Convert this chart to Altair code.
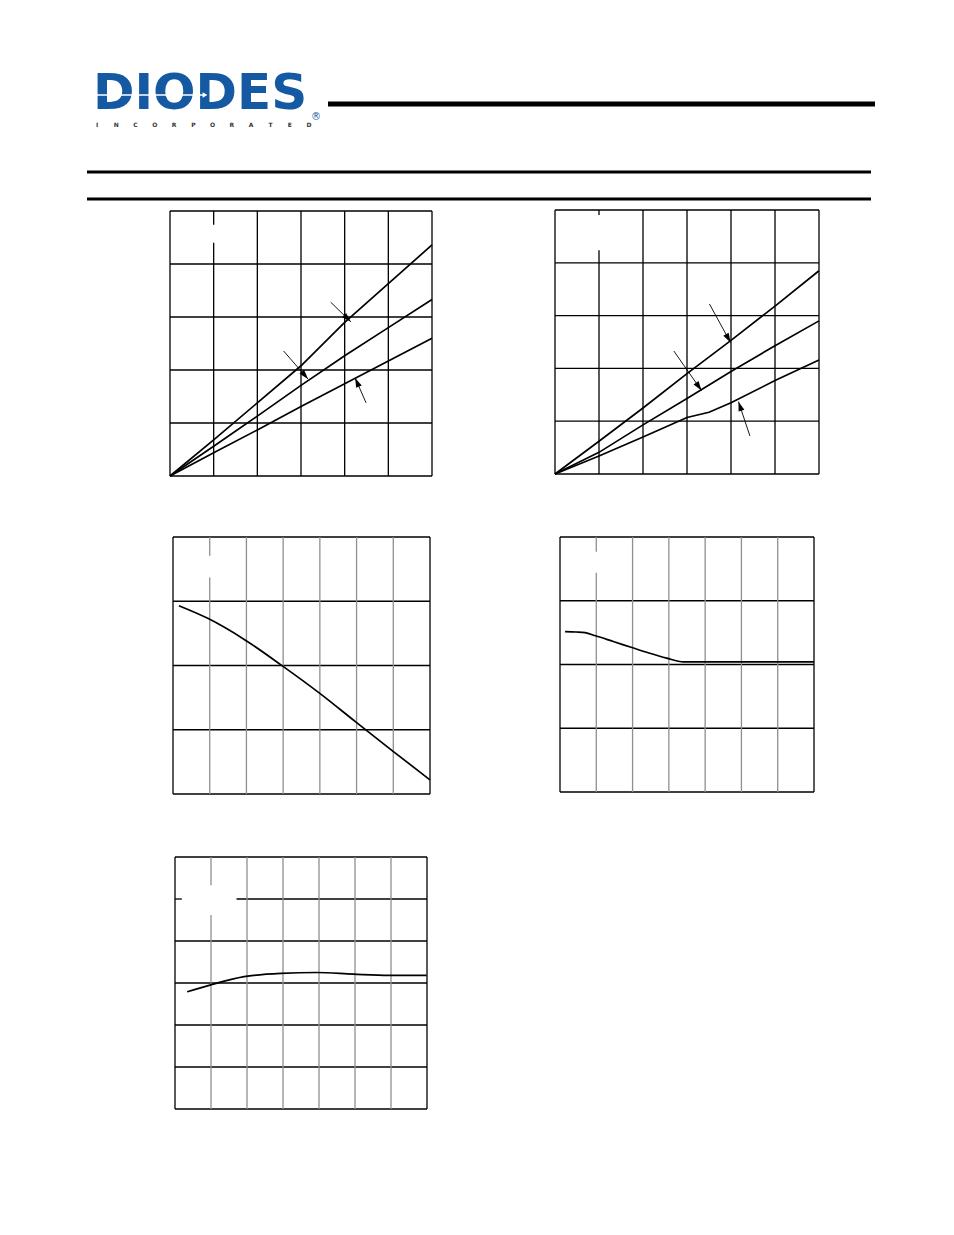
import math
import altair as alt
import pandas as pd

OFF = 8           # page margin
W, H = 938, 1219  # drawing area

# ---------------- data ----------------
# Panel A (top left): three straight-ish lines from origin
A_x = [0, 1, 2, 3, 4, 5, 6]
A_top = [0, 0.68, 1.38, 2.08, 2.90, 3.63, 4.36]
A_mid = [0, 0.56, 1.13, 1.71, 2.27, 2.80, 3.33]
A_bot = [0, 0.44, 0.87, 1.31, 1.74, 2.17, 2.60]
A_tail_x = [3.68, 2.60, 4.49]
A_tail_y = [3.28, 2.36, 1.38]
A_head_x = [4.14, 3.16, 4.24]
A_head_y = [2.91, 1.83, 1.85]

# Panel B (top right)
B_x_top = [0, 1, 2, 3, 4, 5, 6]
B_top = [0, 0.62, 1.25, 1.90, 2.53, 3.18, 3.85]
B_x_mid = [0, 1, 2, 3, 4, 5, 6]
B_mid = [0, 0.41, 0.93, 1.43, 1.94, 2.43, 2.90]
B_x_bot = [0, 1, 2, 3, 3.5, 4, 5, 6]
B_bot = [0, 0.34, 0.70, 1.07, 1.17, 1.35, 1.77, 2.16]
B_tail_x = [3.51, 2.70, 4.43]
B_tail_y = [3.22, 2.33, 0.72]
B_head_x = [3.99, 3.33, 4.17]
B_head_y = [2.49, 1.58, 1.37]

# Panel C (middle left): falling curve
C_x = [0.16, 0.96, 1.93, 2.94, 3.99, 4.96, 5.96, 7.0]
C_y = [2.93, 2.73, 2.41, 2.01, 1.57, 1.13, 0.68, 0.22]

# Panel D (middle right): slow fall then flat
D_x = [0.14, 0.45, 0.69, 0.98, 1.47, 1.96, 2.45, 2.94, 3.40, 5.0, 7.0]
D_y = [2.515, 2.51, 2.50, 2.45, 2.36, 2.27, 2.18, 2.10, 2.04, 2.04, 2.04]

# Panel E (bottom left): slight rise then flat
E_x = [0.34, 0.97, 1.92, 2.94, 3.94, 4.95, 5.94, 6.99]
E_y = [2.79, 2.95, 3.15, 3.23, 3.25, 3.21, 3.18, 3.18]

LOGO = "DIODES"
LOGO_SUB = list("INCORPORATED")
REG = "®"

# panel geometry (page pixels) and domains
PANELS = {
    "A": dict(px=(170, 432), py=(211, 476), xd=(0, 6), yd=(0, 5)),
    "B": dict(px=(555, 819), py=(210, 474), xd=(0, 6), yd=(0, 5)),
    "C": dict(px=(173, 430), py=(537, 794), xd=(0, 7), yd=(0, 4)),
    "D": dict(px=(560, 814), py=(537, 792), xd=(0, 7), yd=(0, 4)),
    "E": dict(px=(175, 427), py=(857, 1109), xd=(0, 7), yd=(0, 6)),
}


def scales(p):
    g = PANELS[p]
    xs = alt.Scale(domain=list(g["xd"]), range=[g["px"][0] - OFF, g["px"][1] - OFF],
                   nice=False, zero=False)
    ys = alt.Scale(domain=list(g["yd"]), range=[g["py"][1] - OFF, g["py"][0] - OFF],
                   nice=False, zero=False)
    return xs, ys


def segs_v(k, y0, y1, gaps):
    out, cur = [], y0
    for lo, hi in gaps:
        out.append((k, cur, k, lo))
        cur = hi
    out.append((k, cur, k, y1))
    return out


def segs_h(k, x0, x1, gaps):
    out, cur = [], x0
    for lo, hi in gaps:
        out.append((cur, k, lo, k))
        cur = hi
    out.append((cur, k, x1, k))
    return out


def grid_layers(p, vgray, vgaps=None, hgaps=None):
    vgaps = vgaps or {}
    hgaps = hgaps or {}
    g = PANELS[p]
    xs, ys = scales(p)
    x0, x1 = g["xd"]
    y0, y1 = g["yd"]
    black, gray = [], []
    black += [(x0, y0, x1, y0), (x0, y1, x1, y1), (x0, y0, x0, y1), (x1, y0, x1, y1)]
    for k in range(y0 + 1, y1):
        black += segs_h(k, x0, x1, hgaps.get(k, []))
    for k in range(x0 + 1, x1):
        s = segs_v(k, y0, y1, vgaps.get(k, []))
        (gray if vgray else black).extend(s)
    cols = ["x", "y", "x2", "y2"]
    enc = dict(x=alt.X("x:Q", scale=xs, axis=None), y=alt.Y("y:Q", scale=ys, axis=None),
               x2="x2:Q", y2="y2:Q")
    layers = [alt.Chart(pd.DataFrame(black, columns=cols)).mark_rule(
        color="black", strokeWidth=1.3).encode(**enc)]
    if gray:
        layers.append(alt.Chart(pd.DataFrame(gray, columns=cols)).mark_rule(
            color="#8f8f8f", strokeWidth=1.3).encode(**enc))
    return layers


def curve_layer(p, series, interp="monotone"):
    xs, ys = scales(p)
    rows = []
    for name, xv, yv in series:
        for a, b in zip(xv, yv):
            rows.append(dict(s=name, x=a, y=b))
    return alt.Chart(pd.DataFrame(rows)).mark_line(
        color="black", strokeWidth=1.7, interpolate=interp).encode(
        x=alt.X("x:Q", scale=xs, axis=None), y=alt.Y("y:Q", scale=ys, axis=None),
        detail="s:N")


ARROW = "M0,0L0.32,1L-0.32,1Z"


def arrow_layers(p, tx, ty, hx, hy):
    g = PANELS[p]
    xs, ys = scales(p)
    sx = (g["px"][1] - g["px"][0]) / (g["xd"][1] - g["xd"][0])
    sy = (g["py"][1] - g["py"][0]) / (g["yd"][1] - g["yd"][0])
    rows = []
    for a, b, c, d in zip(tx, ty, hx, hy):
        dx = (c - a) * sx
        dy = -(d - b) * sy
        ang = math.degrees(math.atan2(dx, -dy)) % 360
        rows.append(dict(x=a, y=b, x2=c, y2=d, ang=ang))
    df = pd.DataFrame(rows)
    shaft = alt.Chart(df).mark_rule(color="black", strokeWidth=0.9).encode(
        x=alt.X("x:Q", scale=xs, axis=None), y=alt.Y("y:Q", scale=ys, axis=None),
        x2="x2:Q", y2="y2:Q")
    head = alt.Chart(df).mark_point(shape=ARROW, filled=True, color="black",
                                    size=360, opacity=1).encode(
        x=alt.X("x2:Q", scale=xs, axis=None), y=alt.Y("y2:Q", scale=ys, axis=None),
        angle=alt.Angle("ang:Q", scale=None))
    return [shaft, head]


layers = []

# ---------------- header ----------------
one = pd.DataFrame({"t": [LOGO]})
layers.append(alt.Chart(one).mark_text(
    font="DejaVu Sans", fontWeight="bold", fontSize=50, color="#1659a3",
    align="left", baseline="alphabetic").encode(
    text="t:N", x=alt.value(93 - OFF), y=alt.value(109 - OFF)))
layers.append(alt.Chart(one).mark_rule(color="white", strokeWidth=1.5).encode(
    x=alt.value(95 - OFF), x2=alt.value(204 - OFF), y=alt.value(95 - OFF)))
layers.append(alt.Chart(one).mark_point(shape="triangle-right", filled=True,
                                        color="white", size=30, opacity=1).encode(
    x=alt.value(205 - OFF), y=alt.value(95 - OFF)))
sub = pd.DataFrame({"i": list(range(len(LOGO_SUB))), "c": LOGO_SUB})
layers.append(alt.Chart(sub).mark_text(
    font="DejaVu Sans", fontWeight="bold", fontSize=6, color="#333333",
    baseline="alphabetic", align="center").encode(
    x=alt.X("i:Q", scale=alt.Scale(domain=[0, 11], range=[97 - OFF, 309 - OFF],
                                   nice=False, zero=False), axis=None),
    y=alt.value(127 - OFF), text="c:N"))
layers.append(alt.Chart(pd.DataFrame({"t": [REG]})).mark_text(
    font="DejaVu Sans", fontSize=10, color="#1659a3", align="center",
    baseline="middle").encode(text="t:N", x=alt.value(316 - OFF), y=alt.value(117 - OFF)))
layers.append(alt.Chart(one).mark_rule(color="black", strokeWidth=5).encode(
    x=alt.value(328 - OFF), x2=alt.value(875 - OFF), y=alt.value(104 - OFF)))
layers.append(alt.Chart(one).mark_rule(color="black", strokeWidth=3).encode(
    x=alt.value(87 - OFF), x2=alt.value(871 - OFF), y=alt.value(172 - OFF)))
layers.append(alt.Chart(one).mark_rule(color="black", strokeWidth=3).encode(
    x=alt.value(87 - OFF), x2=alt.value(871 - OFF), y=alt.value(199 - OFF)))

# ---------------- panels ----------------
layers += grid_layers("A", False, vgaps={1: [(4.40, 4.74)]})
layers.append(curve_layer("A", [("t", A_x, A_top), ("m", A_x, A_mid), ("b", A_x, A_bot)],
                          interp="linear"))
layers += arrow_layers("A", A_tail_x, A_tail_y, A_head_x, A_head_y)

layers += grid_layers("B", False, vgaps={1: [(4.24, 4.905)]})
layers.append(curve_layer("B", [("t", B_x_top, B_top), ("m", B_x_mid, B_mid),
                                ("b", B_x_bot, B_bot)], interp="linear"))
layers += arrow_layers("B", B_tail_x, B_tail_y, B_head_x, B_head_y)

layers += grid_layers("C", True, vgaps={1: [(3.37, 3.71)]})
layers.append(curve_layer("C", [("c", C_x, C_y)]))

layers += grid_layers("D", True, vgaps={1: [(3.44, 3.77)]})
layers.append(curve_layer("D", [("d", D_x, D_y)]))

layers += grid_layers("E", True, vgaps={1: [(4.62, 5.33)]}, hgaps={5: [(0.19, 1.71)]})
layers.append(curve_layer("E", [("e", E_x, E_y)]))

chart = alt.layer(*layers).resolve_scale(
    x="independent", y="independent"
).properties(
    width=W, height=H, padding=0, autosize=alt.AutoSizeParams(type="none"),
    background="white"
).configure_view(stroke=None)

chart.save("out.html", embed_options={"renderer": "svg", "actions": False})
